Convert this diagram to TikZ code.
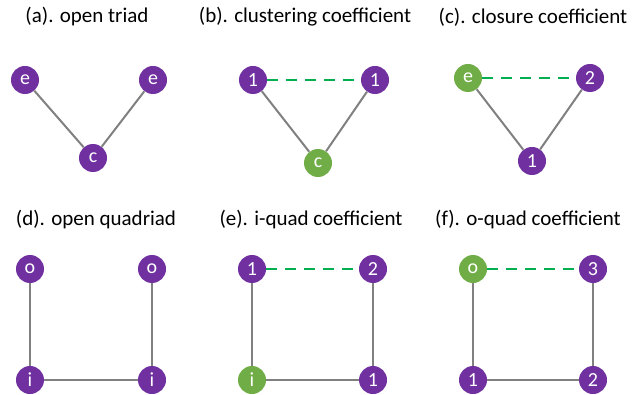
\documentclass[tikz,border=0pt]{standalone}
\usepackage{fontspec}
\setmainfont{Carlito}
\definecolor{vpurple}{HTML}{7030A0}
\definecolor{vgreen}{HTML}{70AD47}
\definecolor{dgreen}{HTML}{00B050}
\definecolor{egray}{HTML}{808080}
\begin{document}
\begin{tikzpicture}[x=1pt,y=-1pt,
  vert/.style={circle,fill=vpurple,text=white,minimum size=28pt,inner sep=0pt,font=\fontsize{20}{20}\selectfont},
  gvert/.style={vert,fill=vgreen},
  edge/.style={draw=egray,line width=2pt},
  newedge/.style={draw=dgreen,line width=2.6pt,dash pattern=on 11pt off 8pt},
  ttl/.style={font=\fontsize{21}{21}\selectfont,text=black}]
\useasboundingbox (0,0) rectangle (644,395);
% (a)
\node[ttl] (ta) at (87,17) {(a). open triad};
\node[vert] (a1) at (25,80) {e};
\node[vert] (a2) at (153,80) {e};
\node[vert] (a3) at (93,158) {c};
\draw[edge] (a1) -- (a3) -- (a2);
% (b)
\node[ttl] (tb) at (305,17) {(b). clustering coefficient};
\node[vert] (b1) at (253,80) {1};
\node[vert] (b2) at (375,80) {1};
\node[gvert] (b3) at (318,163) {c};
\draw[edge] (b1) -- (b3) -- (b2);
\draw[newedge] (b1) -- (b2);
% (c)
\node[ttl] (tc) at (533,17) {(c). closure coefficient};
\node[gvert] (c1) at (468,78) {e};
\node[vert] (c2) at (590,78) {2};
\node[vert] (c3) at (532,161) {1};
\draw[edge] (c1) -- (c3) -- (c2);
\draw[newedge] (c1) -- (c2);
% (d)
\node[ttl] (td) at (96,220) {(d). open quadriad};
\node[vert] (d1) at (30,269) {o};
\node[vert] (d2) at (152,269) {o};
\node[vert] (d3) at (30,380) {i};
\node[vert] (d4) at (152,380) {i};
\draw[edge] (d1) -- (d3) -- (d4) -- (d2);
% (e)
\node[ttl] (te) at (311,220) {(e). i-quad coefficient};
\node[vert] (e1) at (252,269) {1};
\node[vert] (e2) at (373,269) {2};
\node[gvert] (e3) at (252,380) {i};
\node[vert] (e4) at (373,380) {1};
\draw[edge] (e1) -- (e3) -- (e4) -- (e2);
\draw[newedge] (e1) -- (e2);
% (f)
\node[ttl] (tf) at (528,220) {(f). o-quad coefficient};
\node[gvert] (f1) at (473,269) {o};
\node[vert] (f2) at (593,269) {3};
\node[vert] (f3) at (473,380) {1};
\node[vert] (f4) at (593,380) {2};
\draw[edge] (f1) -- (f3) -- (f4) -- (f2);
\draw[newedge] (f1) -- (f2);
\end{tikzpicture}
\end{document}
